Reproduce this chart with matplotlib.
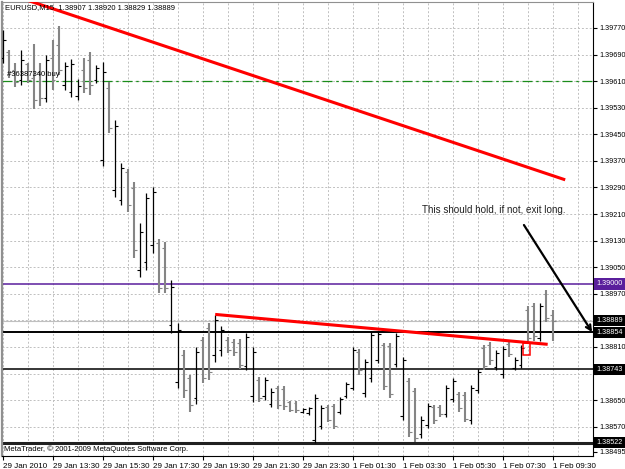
import numpy as np
import matplotlib
matplotlib.use("Agg")
import matplotlib.pyplot as plt
import matplotlib.transforms as mtransforms
from matplotlib.patches import Rectangle

plt.rcParams['font.family'] = ['Liberation Sans', 'DejaVu Sans']

# EURUSD M15 bars, 29 Jan 2010 11:30 -> 1 Feb 2010 09:30
opens = [1.39680, 1.39698, 1.39643, 1.39613, 1.39661, 1.39619, 1.39637, 1.39559, 1.39680, 1.39719,
         1.39598, 1.39577, 1.39565, 1.39643, 1.39674, 1.39613, 1.39373, 1.39589, 1.39282, 1.39252,
         1.39337, 1.39288, 1.39042, 1.39066, 1.39117, 1.39123, 1.39108, 1.38876, 1.38705, 1.38786,
         1.38717, 1.38657, 1.38831, 1.38867, 1.38786, 1.38801, 1.38831, 1.38825, 1.38822, 1.38753,
         1.38663, 1.38711, 1.38663, 1.38639, 1.38687, 1.38684, 1.38645, 1.38642, 1.38615, 1.38612,
         1.38530, 1.38573, 1.38630, 1.38633, 1.38615, 1.38663, 1.38687, 1.38795, 1.38672, 1.38717,
         1.38771, 1.38816, 1.38813, 1.38759, 1.38603, 1.38708, 1.38678, 1.38549, 1.38576, 1.38630,
         1.38630, 1.38609, 1.38654, 1.38669, 1.38666, 1.38591, 1.38681, 1.38807, 1.38816, 1.38750,
         1.38729, 1.38819, 1.38747, 1.38756, 1.38922, 1.38934, 1.38837, 1.38970, 1.38907]
highs = [1.39764, 1.39704, 1.39664, 1.39704, 1.39664, 1.39722, 1.39664, 1.39689, 1.39734, 1.39776,
         1.39668, 1.39677, 1.39616, 1.39680, 1.39698, 1.39658, 1.39668, 1.39607, 1.39493, 1.39364,
         1.39346, 1.39307, 1.39183, 1.39273, 1.39292, 1.39135, 1.39126, 1.39012, 1.38882, 1.38801,
         1.38726, 1.38810, 1.38840, 1.38882, 1.38906, 1.38873, 1.38840, 1.38834, 1.38834, 1.38852,
         1.38810, 1.38720, 1.38720, 1.38687, 1.38693, 1.38693, 1.38648, 1.38648, 1.38627, 1.38630,
         1.38669, 1.38636, 1.38636, 1.38639, 1.38660, 1.38705, 1.38810, 1.38804, 1.38774, 1.38858,
         1.38858, 1.38822, 1.38822, 1.38852, 1.38780, 1.38717, 1.38687, 1.38603, 1.38642, 1.38636,
         1.38636, 1.38696, 1.38717, 1.38675, 1.38675, 1.38696, 1.38744, 1.38816, 1.38825, 1.38801,
         1.38813, 1.38825, 1.38780, 1.38816, 1.38934, 1.38943, 1.38943, 1.38982, 1.38920]
lows = [1.39664, 1.39619, 1.39592, 1.39598, 1.39604, 1.39526, 1.39535, 1.39547, 1.39583, 1.39628,
        1.39583, 1.39562, 1.39553, 1.39574, 1.39568, 1.39604, 1.39355, 1.39454, 1.39261, 1.39237,
        1.39216, 1.39078, 1.39021, 1.39042, 1.39093, 1.38973, 1.38973, 1.38852, 1.38687, 1.38657,
        1.38615, 1.38639, 1.38702, 1.38711, 1.38765, 1.38783, 1.38792, 1.38783, 1.38744, 1.38741,
        1.38645, 1.38645, 1.38651, 1.38630, 1.38624, 1.38621, 1.38615, 1.38612, 1.38612, 1.38606,
        1.38522, 1.38564, 1.38585, 1.38564, 1.38609, 1.38657, 1.38681, 1.38726, 1.38660, 1.38705,
        1.38762, 1.38681, 1.38657, 1.38750, 1.38591, 1.38540, 1.38525, 1.38536, 1.38567, 1.38579,
        1.38600, 1.38600, 1.38645, 1.38615, 1.38585, 1.38579, 1.38672, 1.38741, 1.38756, 1.38741,
        1.38717, 1.38780, 1.38741, 1.38747, 1.38828, 1.38828, 1.38828, 1.38885, 1.38829]
closes = [1.39734, 1.39637, 1.39607, 1.39674, 1.39613, 1.39553, 1.39559, 1.39674, 1.39613, 1.39643,
          1.39655, 1.39661, 1.39595, 1.39589, 1.39598, 1.39649, 1.39637, 1.39469, 1.39475, 1.39349,
          1.39237, 1.39102, 1.39156, 1.39258, 1.39276, 1.38988, 1.38988, 1.38991, 1.38861, 1.38681,
          1.38636, 1.38795, 1.38717, 1.38735, 1.38891, 1.38861, 1.38801, 1.38795, 1.38756, 1.38840,
          1.38795, 1.38657, 1.38711, 1.38675, 1.38636, 1.38633, 1.38621, 1.38621, 1.38624, 1.38627,
          1.38657, 1.38627, 1.38591, 1.38573, 1.38654, 1.38699, 1.38801, 1.38741, 1.38765, 1.38846,
          1.38849, 1.38693, 1.38669, 1.38843, 1.38771, 1.38555, 1.38536, 1.38591, 1.38633, 1.38591,
          1.38609, 1.38687, 1.38708, 1.38627, 1.38594, 1.38687, 1.38735, 1.38753, 1.38771, 1.38792,
          1.38804, 1.38789, 1.38771, 1.38807, 1.38837, 1.38843, 1.38934, 1.38897, 1.38889]

time_labels = ["29 Jan 2010", "29 Jan 13:30", "29 Jan 15:30", "29 Jan 17:30", "29 Jan 19:30",
               "29 Jan 21:30", "29 Jan 23:30", "1 Feb 01:30", "1 Feb 03:30", "1 Feb 05:30",
               "1 Feb 07:30", "1 Feb 09:30"]
price_ticks = [1.38495, 1.38570, 1.38650, 1.38730, 1.38810, 1.38890, 1.38970, 1.39050, 1.39130,
               1.39210, 1.39290, 1.39370, 1.39450, 1.39530, 1.39610, 1.39690, 1.39770]

order_price = 1.39610
order_label = "#36387340 buy"
purple_level = 1.39000
bid = 1.38889
support_levels = [1.38854, 1.38743, 1.38522]
upper_trend = ([4, 90], [1.39853, 1.39313])
lower_trend = ([34, 87.2], [1.38908, 1.38818])
header = "EURUSD,M15  1.38907 1.38920 1.38829 1.38889"
note = "This should hold, if not, exit long."

opens, highs, lows, closes = map(np.array, (opens, highs, lows, closes))
x = np.arange(len(opens))

fig = plt.figure(figsize=(6.25, 4.69), dpi=100)
ax = fig.add_axes([2/625, 1 - 456/469, 591/625, 454/469])
ax.set_xlim(-0.11, 94.45)
ax.set_ylim(1.38482, 1.39848)

# grid
grid_kw = dict(color='#c0c0c0', lw=0.7, ls=(0, (2, 2)), zorder=0)
for gx in range(0, 94, 4):
    ax.axvline(gx, **grid_kw)
for gy in price_ticks[1:]:
    ax.axhline(gy, **grid_kw)

# order + levels
ax.axhline(order_price, color='#1a8c1a', lw=0.9, ls=(0, (8, 3, 2, 3)), zorder=1)
ax.text(0.008, order_price + 0.00021, order_label, transform=mtransforms.blended_transform_factory(ax.transAxes, ax.transData),
        fontsize=5.5, va='center', ha='left', zorder=4)
ax.axhline(purple_level, color='#5a1e9c', lw=1.1, zorder=1)
ax.axhline(bid, color='#c0c0c0', lw=0.8, zorder=1)
ax.axhline(support_levels[0], color='black', lw=1.4, zorder=1)
ax.axhline(support_levels[1], color='black', lw=1.1, zorder=1)
ax.axhline(support_levels[2], color='#202020', lw=2.2, zorder=1)

# OHLC bars
up = closes > opens
for mask, col, lw in [(up, 'black', 0.9), (~up, '#858585', 1.5)]:
    ax.vlines(x[mask], lows[mask], highs[mask], color=col, lw=lw, zorder=3)
    ax.hlines(opens[mask], x[mask] - 0.45, x[mask], color=col, lw=0.8, zorder=3)
    ax.hlines(closes[mask], x[mask], x[mask] + 0.45, color=col, lw=0.8, zorder=3)

# trendlines
ax.plot(*upper_trend, color='red', lw=2.2, zorder=5, solid_capstyle='butt')
ax.plot(*lower_trend, color='red', lw=2.2, zorder=5, solid_capstyle='butt')
ax.add_patch(Rectangle((83.3, 1.38785), 1.1, 0.00037, fill=False, ec='red', lw=1.1, zorder=5))

ax.annotate('', xy=(94.3, 1.38855), xytext=(83.4, 1.39177),
            arrowprops=dict(arrowstyle='->', color='black', lw=1.6, shrinkA=0, shrinkB=0, mutation_scale=9),
            annotation_clip=False, zorder=6)
ax.text(67.1, 1.39223, note, fontsize=7.1, va='center', ha='left', color='#202020', zorder=6)

# axes styling
for side in ['top', 'bottom', 'right']:
    ax.spines[side].set_color('black')
    ax.spines[side].set_linewidth(0.8)
ax.spines['left'].set_color('#909090')
ax.spines['left'].set_linewidth(1.6)
ax.spines['top'].set_color('#909090')

# scale labels hidden behind the boxed levels stay blank
box_levels = [(purple_level, '#5a1e9c'), (bid, 'black')] + [(p, 'black') for p in support_levels]
covered = [p for p in price_ticks if any(abs(p - b) < 0.00015 for b, _ in box_levels)]

ax.yaxis.tick_right()
ax.set_yticks(price_ticks)
ax.set_yticklabels(["" if p in covered else f"{p:.5f}" for p in price_ticks])
ax.set_xticks(range(0, len(opens), 8))
ax.set_xticklabels(time_labels, ha='left')
ax.tick_params(axis='both', length=3, pad=1, color='black')
ax.tick_params(axis='y', labelsize=5.2, pad=1.5)
ax.tick_params(axis='x', labelsize=5.8, pad=2)

tr = mtransforms.blended_transform_factory(ax.transAxes, ax.transData)
for p, bg in box_levels:
    ax.text(1.0062, p, f"{p:.5f}", transform=tr, fontsize=5.2, color='white', ha='left', va='center',
            bbox=dict(boxstyle='square,pad=0.3', fc=bg, ec='none'), clip_on=False, zorder=10)

fig.text(5/625, 1 - 8/469, header, fontsize=5.5, va='center', ha='left', zorder=1)
fig.text(4/625, 1 - 449/469, "MetaTrader, \u00a9 2001-2009 MetaQuotes Software Corp.", fontsize=5.5,
         va='center', ha='left')

fig.savefig("out.png", dpi=100, facecolor='white')
